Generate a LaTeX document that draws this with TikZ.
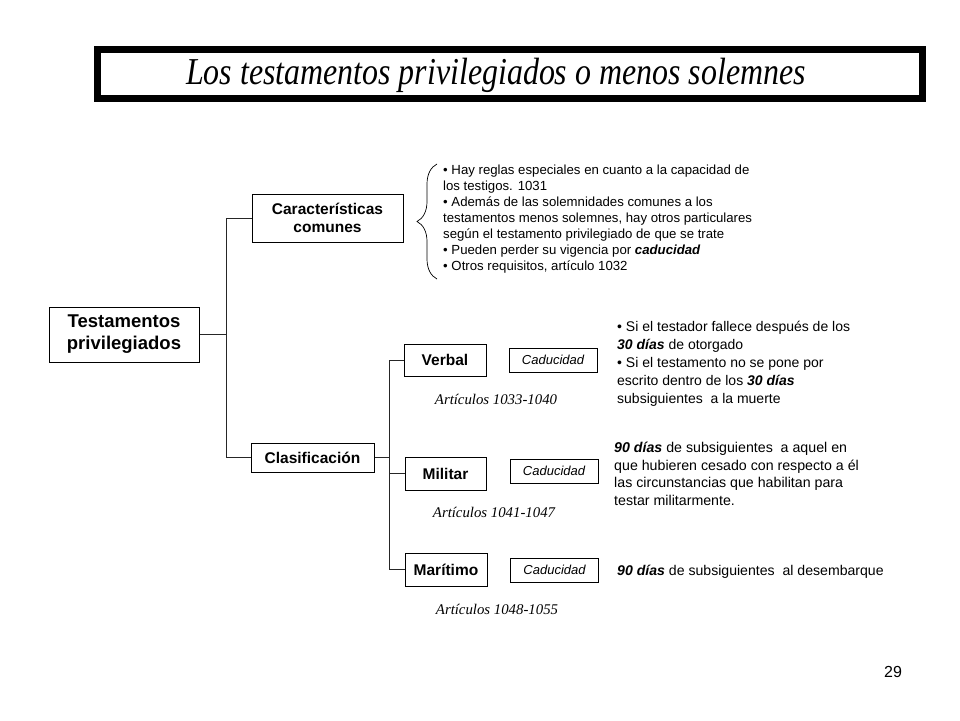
\documentclass[tikz,border=0pt]{standalone}
\usepackage{fontspec}
\setmainfont{Liberation Sans}
\newfontfamily\serifit{Liberation Serif}
\newfontfamily\titlefont[FakeStretch=0.84]{Liberation Serif}
\usetikzlibrary{decorations.pathreplacing}
\begin{document}
\begin{tikzpicture}[x=1pt,y=-1pt,
  box/.style={draw=black, line width=1pt, fill=white, inner sep=0pt, align=center},
  bigbox/.style={box, font=\fontsize{18.5}{22}\selectfont\bfseries},
  midbox/.style={box, font=\fontsize{15.5}{18}\selectfont\bfseries},
  cadbox/.style={box, font=\fontsize{13}{15}\selectfont\itshape, minimum width=88pt, minimum height=24pt},
  artlabel/.style={font=\fontsize{14.8}{17}\selectfont\serifit\itshape, inner sep=0pt},
  conn/.style={draw=black!85, line width=1pt},
  note/.style={align=left, inner sep=0pt, anchor=north west}
]
\useasboundingbox (0,0) rectangle (960,720);
\fill[white] (0,0) rectangle (960,720);

% title
\draw[line width=7pt] (97.5,49.5) rectangle (922.5,98.5);
\node[inner sep=0pt, font=\fontsize{38}{44}\selectfont\titlefont\itshape] (title) at (496,75) {Los testamentos privilegiados o menos solemnes};

% main boxes
\node[bigbox, minimum width=150pt, minimum height=55pt] (tp) at (124,334.5) {Testamentos\\privilegiados};
\node[midbox, minimum width=151pt, minimum height=48pt] (cc) at (327.5,218) {Características\\comunes};
\node[midbox, minimum width=123pt, minimum height=29pt] (cl) at (312.5,457.5) {Clasificación};

\node[midbox, minimum width=82pt, minimum height=32pt] (ve) at (445,360) {Verbal};
\node[midbox, minimum width=81pt, minimum height=33pt] (mi) at (445.5,473.5) {Militar};
\node[midbox, minimum width=82pt, minimum height=33pt] (ma) at (446,569.5) {Marítimo};

\node[cadbox] (cv) at (553,360) {Caducidad};
\node[cadbox] (cm) at (554,471) {Caducidad};
\node[cadbox] (cma) at (554.5,570) {Caducidad};

\node[artlabel] (av) at (496,399) {Artículos 1033-1040};
\node[artlabel] (am) at (494,512) {Artículos 1041-1047};
\node[artlabel] (ama) at (497,609) {Artículos 1048-1055};

% connectors
\coordinate (j1) at (226,334.5);
\coordinate (j2) at (389,457.5);
\draw[conn] (tp.east) -- (j1);
\draw[conn] (cc.west) -- (cc.west -| j1) -- (cl.west -| j1) -- (cl.west);
\draw[conn] (cl.east) -- (j2);
\draw[conn] (ve.west) -- (ve.west -| j2) -- (ma.west -| j2) -- (ma.west);
\draw[conn] (mi.west) -- (mi.west -| j2);

% brace and notes
\coordinate (bb) at (437,279);
\coordinate (bt) at (437,164);
\draw[line width=0.7pt, decorate, decoration={brace, amplitude=20pt}] (bb) -- (bt);

\node[note, font=\fontsize{13.2}{16}\selectfont] (n1) at (443,165) {• Hay reglas especiales en cuanto a la capacidad de\\los testigos. 1031\\• Además de las solemnidades comunes a los\\testamentos menos solemnes, hay otros particulares\\según el testamento privilegiado de que se trate\\• Pueden perder su vigencia por \textbf{\textit{caducidad}}\\• Otros requisitos, artículo 1032};

\node[note, font=\fontsize{14}{18}\selectfont] (n2) at (617,321) {• Si el testador fallece después de los\\\textbf{\textit{30 días}} de otorgado\\• Si el testamento no se pone por\\escrito dentro de los \textbf{\textit{30 días}}\\subsiguientes\ \ a la muerte};

\node[note, font=\fontsize{14.2}{17.5}\selectfont] (n3) at (614,442) {\textbf{\textit{90 días}} de subsiguientes\ \ a aquel en\\que hubieren cesado con respecto a él\\las circunstancias que habilitan para\\testar militarmente.};

\node[inner sep=0pt, anchor=west, font=\fontsize{14.1}{17}\selectfont] (n4) at (617,572) {\textbf{\textit{90 días}} de subsiguientes\ \ al desembarque};

\node[inner sep=0pt, font=\fontsize{16}{19}\selectfont] (pg) at (893,672) {29};
\end{tikzpicture}
\end{document}
